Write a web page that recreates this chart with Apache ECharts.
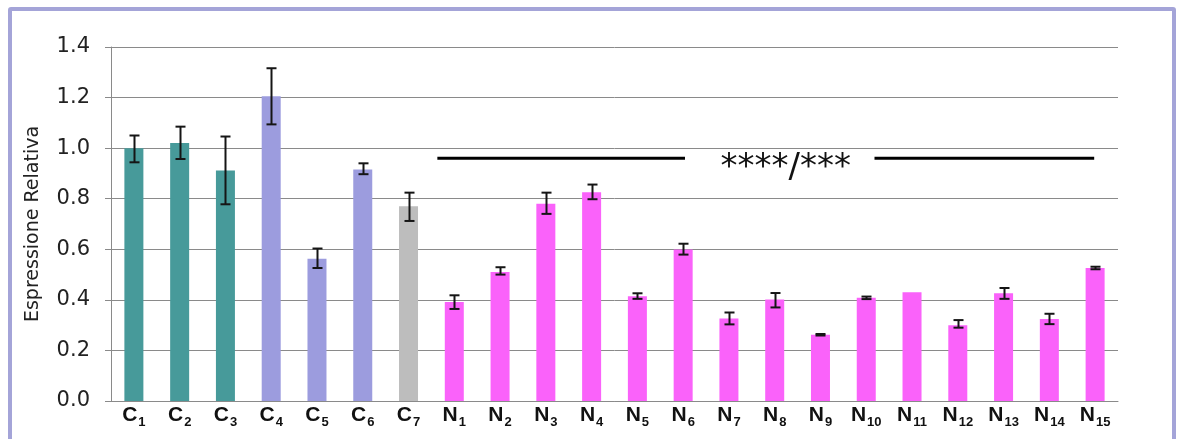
<!DOCTYPE html>
<html>
<head>
<meta charset="utf-8">
<script src="https://cdn.jsdelivr.net/npm/echarts@6/dist/echarts.min.js"></script>
<style>
  html, body { margin: 0; padding: 0; background: #ffffff; }
  #wrap { position: relative; width: 1178px; height: 439px; overflow: hidden; }
  #chart { position: absolute; left: 0; top: 0; width: 1178px; height: 439px; }
  #frame { position: absolute; left: 8px; top: 7px; width: 1160px; height: 470px;
           border: 4px solid #A4A4D8; border-radius: 3px; pointer-events: none; }
</style>
</head>
<body>
<div id="wrap">
  <div id="chart"></div>
  <div id="frame"></div>
</div>
<script>
// ---- data ----
const categories = ['C1','C2','C3','C4','C5','C6','C7',
  'N1','N2','N3','N4','N5','N6','N7','N8','N9','N10','N11','N12','N13','N14','N15'];
const groups = ['A','A','A','B','B','B','G',
  'N','N','N','N','N','N','N','N','N','N','N','N','N','N','N'];
const values = [1.00, 1.02, 0.912, 1.205, 0.563, 0.916, 0.77,
  0.392, 0.51, 0.78, 0.826, 0.414, 0.599, 0.326, 0.401, 0.262, 0.408, 0.43, 0.30, 0.426, 0.324, 0.526];
const errLow = [0.944, 0.957, 0.778, 1.094, 0.526, 0.897, 0.712,
  0.364, 0.50, 0.74, 0.798, 0.404, 0.579, 0.303, 0.37, 0.259, 0.403, null, 0.29, 0.404, 0.304, 0.521];
const errHigh = [1.05, 1.085, 1.046, 1.316, 0.603, 0.94, 0.824,
  0.418, 0.529, 0.824, 0.856, 0.426, 0.622, 0.35, 0.427, 0.265, 0.413, null, 0.32, 0.447, 0.345, 0.531];
const yTicks = [0, 0.2, 0.4, 0.6, 0.8, 1.0, 1.2, 1.4];
// significance bars (x in category units: category i spans [i, i+1]), y in data units
const sigLines = [[7.13, 12.54, 0.96], [16.68, 21.48, 0.96]];
const sigLabel = { x: 14.74, y: 0.92, text: '****/***' };

// ---- styles ----
const groupColors = { A: '#479A9A', B: '#9C9CDE', G: '#BDBDBD', N: '#FA62FA' };

const barData = values.map((v, i) => ({ value: v, itemStyle: { color: groupColors[groups[i]] } }));
const errData = [];
categories.forEach((c, i) => { if (errLow[i] != null) errData.push([i, errLow[i], errHigh[i]]); });

const chart = echarts.init(document.getElementById('chart'), null, { renderer: 'canvas' });
chart.setOption({
  animation: false,
  backgroundColor: '#ffffff',
  grid: { left: 111, right: 60, top: 47, bottom: 38, containLabel: false },
  xAxis: [{
    type: 'category',
    data: categories,
    axisLine: { show: true, lineStyle: { color: '#8a8a8a', width: 1 } },
    axisTick: { show: false },
    axisLabel: {
      interval: 0,
      margin: 1,
      formatter: function (v) { return '{m|' + v.charAt(0) + '}{s|' + v.slice(1) + '}'; },
      rich: {
        m: { fontFamily: 'Liberation Sans, Arial, sans-serif', fontWeight: 'bold', fontSize: 21, color: '#111', verticalAlign: 'bottom', lineHeight: 24 },
        s: { fontFamily: 'Liberation Sans, Arial, sans-serif', fontWeight: 'bold', fontSize: 13, color: '#111', verticalAlign: 'bottom', lineHeight: 20, padding: [0, 0, -3, 1] }
      }
    }
  }, {
    type: 'value', min: 0, max: 22, show: false
  }],
  yAxis: {
    type: 'value',
    min: 0, max: 1.4, interval: 0.2,
    name: 'Espressione Relativa',
    nameLocation: 'middle',
    nameGap: 68,
    nameTextStyle: { fontFamily: 'DejaVu Sans, sans-serif', fontSize: 19, color: '#222' },
    axisLine: { show: true, lineStyle: { color: '#8a8a8a', width: 1 } },
    axisTick: { show: true, length: 6, lineStyle: { color: '#8a8a8a' } },
    axisLabel: {
      margin: 21,
      fontFamily: 'DejaVu Sans, sans-serif', fontSize: 21, color: '#222',
      formatter: function (v) { return v.toFixed(1); }
    },
    splitLine: { show: true, lineStyle: { color: '#8a8a8a', width: 1 } }
  },
  series: [{
    type: 'bar',
    data: barData,
    barWidth: 19,
    xAxisIndex: 0,
    z: 2
  }, {
    type: 'custom',
    xAxisIndex: 0,
    z: 5,
    data: errData,
    renderItem: function (params, api) {
      const x = api.value(0);
      const lo = api.coord([x, api.value(1)]);
      const hi = api.coord([x, api.value(2)]);
      const cx = Math.round(lo[0]) + 0.5;
      const hw = 5;
      const st = { stroke: '#151515', lineWidth: 2 };
      return { type: 'group', children: [
        { type: 'line', shape: { x1: cx, y1: hi[1], x2: cx, y2: lo[1] }, style: st },
        { type: 'line', shape: { x1: cx - hw, y1: hi[1], x2: cx + hw, y2: hi[1] }, style: st },
        { type: 'line', shape: { x1: cx - hw, y1: lo[1], x2: cx + hw, y2: lo[1] }, style: st }
      ]};
    }
  }, {
    type: 'custom',
    xAxisIndex: 1,
    z: 6,
    data: sigLines,
    renderItem: function (params, api) {
      const a = api.coord([api.value(0), api.value(2)]);
      const b = api.coord([api.value(1), api.value(2)]);
      return { type: 'line', shape: { x1: a[0], y1: a[1], x2: b[0], y2: b[1] },
               style: { stroke: '#000', lineWidth: 3 } };
    }
  }, {
    type: 'custom',
    xAxisIndex: 1,
    z: 6,
    data: [[sigLabel.x, sigLabel.y]],
    renderItem: function (params, api) {
      const p = api.coord([api.value(0), api.value(1)]);
      return { type: 'text', x: p[0], y: p[1],
               style: { text: sigLabel.text, fill: '#111', font: '34px "DejaVu Sans", sans-serif',
                        align: 'center', verticalAlign: 'middle' } };
    }
  }]
});
</script>
</body>
</html>
